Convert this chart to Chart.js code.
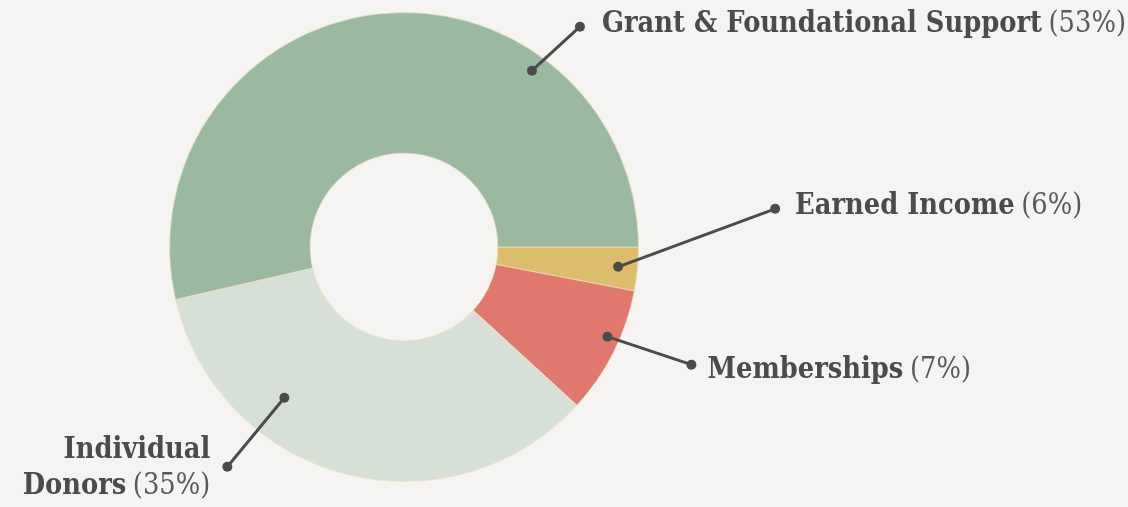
<!DOCTYPE html>
<html lang="en">
<head>
  <meta charset="UTF-8" />
  <title>Funding sources</title>
  <script src="https://cdn.jsdelivr.net/npm/chart.js@4/dist/chart.umd.min.js"></script>
  <style>
    *, *::before, *::after { box-sizing: border-box; margin: 0; padding: 0; }
    body { background: #f5f4f2; }
    .chart-wrap { width: 1128px; height: 507px; position: relative; }
  </style>
</head>
<body>
  <div class="chart-wrap">
    <canvas id="chart"></canvas>
  </div>

  <script>
    // slices in drawing order, clockwise from 3 o'clock
    const categories = ['Earned Income', 'Memberships', 'Individual Donors', 'Grant & Foundational Support'];
    const shares = [3, 8.8, 34.6, 53.6];
    const shareLabels = ['(6%)', '(7%)', '(35%)', '(53%)'];
    const nameLines = [['Earned Income'], ['Memberships'], ['Individual', 'Donors'], ['Grant & Foundational Support']];
    const colors = ['#dbbd6c', '#e0786d', '#d7e0d7', '#9bb9a0'];

    // where each callout sits: fraction along the arc, fraction of outer radius,
    // leader line offset, text offset from the line end
    const callouts = [
      { f: 0.49, rf: 0.917, dx: 157, dy: -58, tx: 20, ty: 5, align: 'left' },
      { f: 0.41, rf: 0.948, dx: 84, dy: 28, tx: 16, ty: 13, align: 'left' },
      { f: 0.69, rf: 0.821, dx: -57, dy: 69, tx: -17, ty: -9, align: 'right' },
      { f: 0.72, rf: 0.929, dx: 48, dy: -44, tx: 22, ty: 5, align: 'left' },
    ];

    const FONT_SIZE = 30;
    const TEXT_SCALE_X = 0.86; // DejaVu Serif runs wider than the original face
    const LINE_GAP = 36;
    const INK = '#4b4a4c';

    const calloutPlugin = {
      id: 'callouts',
      afterDatasetsDraw(chart) {
        const ctx = chart.ctx;
        const arcs = chart.getDatasetMeta(0).data;
        ctx.save();
        arcs.forEach((arc, i) => {
          const c = callouts[i];
          const p = arc.getProps(['x', 'y', 'startAngle', 'endAngle', 'outerRadius'], true);
          const a = p.startAngle + c.f * (p.endAngle - p.startAngle);
          const r = p.outerRadius * c.rf;
          const x0 = p.x + r * Math.cos(a);
          const y0 = p.y + r * Math.sin(a);
          const x1 = x0 + c.dx;
          const y1 = y0 + c.dy;

          ctx.strokeStyle = INK;
          ctx.fillStyle = INK;
          ctx.lineWidth = 3;
          ctx.beginPath();
          ctx.moveTo(x0, y0);
          ctx.lineTo(x1, y1);
          ctx.stroke();
          [[x0, y0], [x1, y1]].forEach(([px, py]) => {
            ctx.beginPath();
            ctx.arc(px, py, 5, 0, Math.PI * 2);
            ctx.fill();
          });

          const lines = nameLines[i];
          const bold = `bold ${FONT_SIZE}px "DejaVu Serif", serif`;
          const reg = `${FONT_SIZE}px "DejaVu Serif", serif`;
          ctx.textBaseline = 'alphabetic';
          ctx.textAlign = 'left';
          lines.forEach((line, li) => {
            const last = li === lines.length - 1;
            const by = y1 + c.ty + li * LINE_GAP;
            ctx.font = bold;
            const wName = ctx.measureText(line).width;
            let wShare = 0;
            let space = 0;
            if (last) {
              ctx.font = reg;
              wShare = ctx.measureText(shareLabels[i]).width;
              space = ctx.measureText(' ').width * 0.8;
            }
            const total = (wName + space + wShare) * TEXT_SCALE_X;
            const sx = c.align === 'right' ? x1 + c.tx - total : x1 + c.tx;
            ctx.save();
            ctx.translate(sx, by);
            ctx.scale(TEXT_SCALE_X, 1);
            ctx.font = bold;
            ctx.fillStyle = INK;
            ctx.fillText(line, 0, 0);
            if (last) {
              ctx.font = reg;
              ctx.fillStyle = '#59585a';
              ctx.fillText(shareLabels[i], wName + space, 0);
            }
            ctx.restore();
          });
        });
        ctx.restore();
      },
    };

    new Chart(document.getElementById('chart'), {
      type: 'doughnut',
      data: {
        labels: categories,
        datasets: [{
          data: shares,
          backgroundColor: colors,
          borderColor: 'rgba(238, 226, 190, 0.7)',
          borderWidth: 1,
          hoverOffset: 0,
        }],
      },
      options: {
        responsive: true,
        maintainAspectRatio: false,
        animation: false,
        rotation: 90,
        cutout: '40%',
        layout: { padding: { left: 169, right: 489, top: 12, bottom: 25 } },
        plugins: {
          legend: { display: false },
          tooltip: { enabled: false },
        },
      },
      plugins: [calloutPlugin],
    });
  </script>
</body>
</html>
